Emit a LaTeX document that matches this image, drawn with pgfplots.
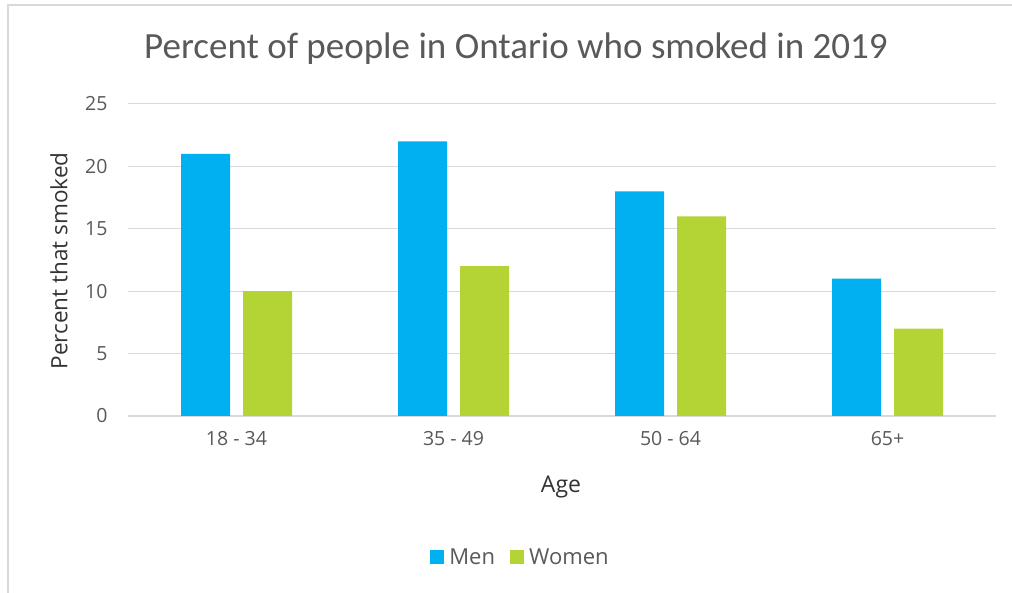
\documentclass[border=0pt]{standalone}
\usepackage{pgfplots}
\pgfplotsset{compat=1.18}
\usepackage{fontspec}
\setmainfont{Open Sans}
\newfontfamily\titlefont{Carlito}
\definecolor{menblue}{HTML}{00B0F0}
\definecolor{womengreen}{HTML}{B4D335}
\definecolor{txtgray}{HTML}{595959}
\definecolor{gridgray}{HTML}{D9D9D9}
\begin{document}
\begin{tikzpicture}[x=1pt,y=1pt]
\path[use as bounding box] (0,0) rectangle (1012,593);
% chart frame (left and top edges are visible in the crop)
\draw[gridgray,line width=1.5pt] (8,0) -- (8,588) -- (1012,588);
\begin{axis}[
  at={(128pt,177pt)}, anchor=south west,
  scale only axis, width=868pt, height=312pt,
  ybar=13pt, bar width=49pt,
  xmin=-0.5, xmax=3.5, ymin=0, ymax=25,
  xtick={0,1,2,3},
  xticklabels={18 - 34, 35 - 49, 50 - 64, 65+},
  ytick={0,5,...,25},
  major tick length=0pt,
  axis line style={draw=none},
  axis x line*=bottom, axis y line*=left,
  x axis line style={draw=gridgray, line width=1.2pt},
  ymajorgrids, grid style={gridgray, line width=1pt},
  tick label style={font=\fontsize{19.5}{21}\selectfont, text=txtgray},
  /pgf/number format/assume math mode=true,
  xticklabel style={yshift=-12pt},
  yticklabel style={xshift=-17pt},
  legend style={at={(0.4516,-0.452)}, anchor=center, draw=none,
    font=\fontsize{22}{24}\selectfont, text=txtgray,
    nodes={inner xsep=1pt},
    /tikz/every even column/.append style={column sep=14pt}},
  legend columns=2,
  legend image code/.code={\fill[#1,draw=none] (0pt,-7pt) rectangle (14pt,7pt);\path (18pt,0pt);},
  clip=false,
]
\addplot[fill=menblue, draw=none] coordinates {(0,21) (1,22) (2,18) (3,11)};
\addplot[fill=womengreen, draw=none] coordinates {(0,10) (1,12) (2,16) (3,7)};
\legend{Men, Women}
\end{axis}
\node[text=txtgray, font=\titlefont\fontsize{37}{40}\selectfont] at (516,544) {Percent of people in Ontario who smoked in 2019};
\node[text=black!80, rotate=90, font=\fontsize{22.5}{24}\selectfont] at (59,332) {Percent that smoked};
\node[text=black!80, font=\fontsize{23}{25}\selectfont] at (561,106) {Age};
\end{tikzpicture}
\end{document}
